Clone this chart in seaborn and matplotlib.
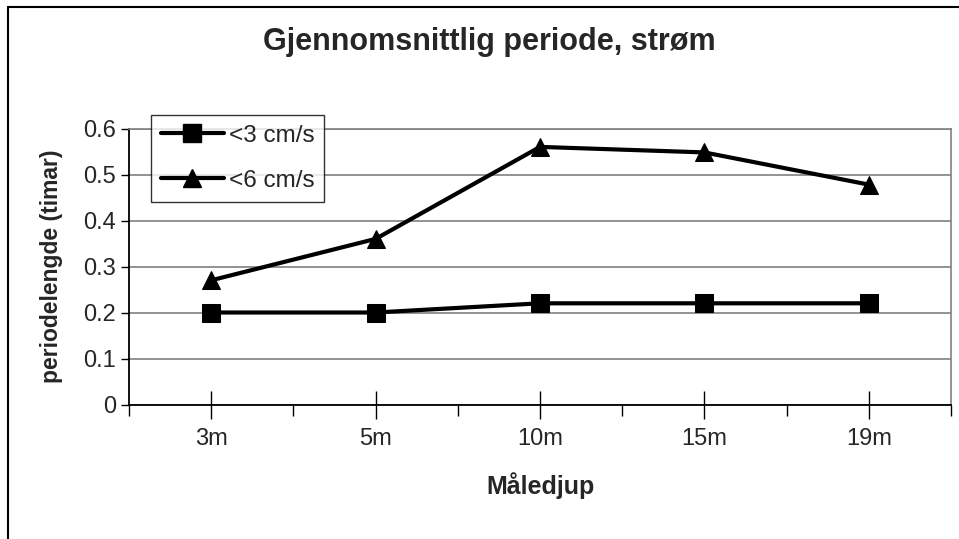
import matplotlib
matplotlib.use("Agg")
import matplotlib.pyplot as plt
import seaborn as sns
import pandas as pd
from matplotlib.lines import Line2D
from matplotlib.ticker import FixedLocator

categories = ["3m", "5m", "10m", "15m", "19m"]
series_names = ["<3 cm/s", "<6 cm/s"]
values_3 = [0.20, 0.20, 0.22, 0.22, 0.22]
values_6 = [0.27, 0.36, 0.56, 0.548, 0.478]
yticks = [0, 0.1, 0.2, 0.3, 0.4, 0.5, 0.6]

df = pd.DataFrame({
    "Måledjup": categories * 2,
    "pos": list(range(len(categories))) * 2,
    "verdi": values_3 + values_6,
    "serie": [series_names[0]] * len(categories) + [series_names[1]] * len(categories),
})

sns.set_theme(style="white")
plt.rcParams["font.family"] = ["Liberation Sans", "DejaVu Sans"]

fig = plt.figure(figsize=(9.59, 5.39), dpi=100)
ax = fig.add_axes([129 / 959, 1 - 404.5 / 539, (951 - 129) / 959, (404.5 - 128.5) / 539])

LW = 3.0
MS = 12.5
sns.lineplot(data=df, x="pos", y="verdi", hue="serie", style="serie",
             palette=["black", "black"], markers={series_names[0]: "s", series_names[1]: "^"},
             dashes=False, linewidth=LW, markersize=MS, markeredgecolor="black",
             ax=ax, legend=False)

ax.set_xlim(-0.5, len(categories) - 0.5)
ax.set_ylim(0, 0.6)
ax.set_yticks(yticks)
ax.set_yticklabels(["0"] + [f"{v:.1f}" for v in yticks[1:]], fontsize=17)
ax.set_xticks(range(len(categories)))
ax.set_xticklabels(categories, fontsize=17)
ax.xaxis.set_minor_locator(FixedLocator([i - 0.5 for i in range(len(categories) + 1)]))
ax.tick_params(axis="y", which="major", direction="out", length=6, width=1, color="black", pad=3.5, left=True)
ax.tick_params(axis="x", which="major", direction="inout", length=20, width=1, color="black", pad=7, bottom=True)
ax.tick_params(axis="x", which="minor", direction="out", length=8, width=1, color="black", bottom=True)
ax.yaxis.grid(True, color="#808080", linewidth=1.2)
ax.set_axisbelow(True)
for s in ["top", "right"]:
    ax.spines[s].set_color("#808080")
    ax.spines[s].set_linewidth(1.2)
for s in ["left", "bottom"]:
    ax.spines[s].set_color("black")
    ax.spines[s].set_linewidth(1.3)

ax.set_xlabel("Måledjup", fontsize=18, fontweight="bold", labelpad=16)
ax.set_ylabel("periodelengde (timar)", fontsize=16.5, fontweight="bold", labelpad=14)

fig.text(489 / 959, 1 - 50 / 539, "Gjennomsnittlig periode, strøm",
         ha="center", va="baseline", fontsize=22, fontweight="bold")

handles = [
    Line2D([], [], color="black", linewidth=LW, marker="s", markersize=MS, label=series_names[0]),
    Line2D([], [], color="black", linewidth=LW, marker="^", markersize=MS, label=series_names[1]),
]
leg = ax.legend(handles=handles, loc="upper left",
                bbox_to_anchor=((151 - 129) / 822, 1 + (128.5 - 115) / 276),
                borderaxespad=0, fontsize=17.5, frameon=True, fancybox=False, edgecolor="black",
                borderpad=0.4, handlelength=2.6, handletextpad=0.2, labelspacing=0.95)
leg.get_frame().set_linewidth(1.0)

fig.add_artist(Line2D([8 / 959, 8 / 959], [0, 1 - 6.5 / 539], color="black", linewidth=1.5))
fig.add_artist(Line2D([8 / 959, 1], [1 - 6.5 / 539, 1 - 6.5 / 539], color="black", linewidth=1.5))

fig.savefig("out.png", dpi=100)
